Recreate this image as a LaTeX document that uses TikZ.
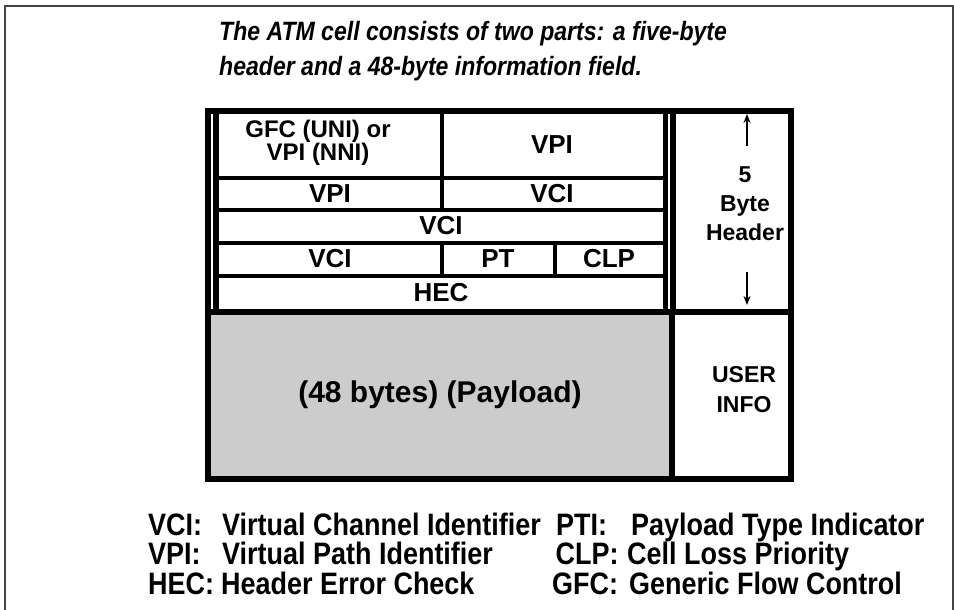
\documentclass[tikz,border=0pt]{standalone}
\usepackage{fontspec}
\setmainfont{Liberation Sans}
\newfontfamily\narrowfont{Liberation Sans}[FakeStretch=0.87]
\usetikzlibrary{arrows.meta}
\definecolor{payloadgray}{HTML}{CCCCCC}
\definecolor{framegray}{HTML}{444444}
\tikzset{
  bar/.style={line width=6pt},
  thinbar/.style={line width=4pt},
  celltext/.style={font=\fontsize{26}{20}\selectfont\bfseries, inner sep=0pt, align=center},
  sidetext/.style={font=\fontsize{23}{20}\selectfont\bfseries, inner sep=0pt, anchor=base},
  titletext/.style={font=\narrowfont\fontsize{26.5}{30}\selectfont\bfseries\itshape, inner sep=0pt, anchor=base west},
  legtext/.style={font=\narrowfont\fontsize{31}{31}\selectfont\bfseries, inner sep=0pt, anchor=base west},
  arr/.style={line width=1.6pt, -{Stealth[length=9pt,width=7pt]}}
}
\begin{document}
\begin{tikzpicture}[x=1pt,y=-1pt]
\useasboundingbox (0,0) rectangle (954,610);
% outer frame
\draw[framegray, line width=2pt] (5,620) -- (5,6) -- (952.5,6) -- (952.5,620);
% title
\node[titletext] (t1) at (219,41) {The ATM cell consists of two parts: a five-byte};
\node[titletext] (t2) at (219,76) {header and a 48-byte information field.};
% payload fill
\fill[payloadgray] (211,315) rectangle (669,476);
% frame of table
\draw[bar] (208,111) rectangle (791,479);
\draw[bar] (205,312) -- (794,312);
\draw[bar] (216,111) -- (216,312);
\draw[line width=5pt] (665.5,111) -- (665.5,312);
\draw[bar] (673,111) -- (673,312);
\draw[bar] (672,312) -- (672,479);
% inner header lines
\draw[thinbar] (219,177.5) -- (663,177.5);
\draw[thinbar] (219,209.5) -- (663,209.5);
\draw[thinbar] (219,242.5) -- (663,242.5);
\draw[thinbar] (219,275.5) -- (663,275.5);
\draw[thinbar] (441.5,114) -- (441.5,209.5);
\draw[thinbar] (442,242.5) -- (442,275.5);
\draw[thinbar] (555,242.5) -- (555,275.5);
% cell texts
\node[celltext, font=\fontsize{24}{20}\selectfont\bfseries] (gfc) at (318,143) {GFC (UNI) or\\VPI (NNI)};
\node[celltext] (vpia) at (552,145) {VPI};
\node[celltext] (vpib) at (330,194) {VPI};
\node[celltext] (vcib) at (552,194) {VCI};
\node[celltext] (vcic) at (441,226) {VCI};
\node[celltext] (vcid) at (330,259) {VCI};
\node[celltext] (pt) at (498,259) {PT};
\node[celltext] (clp) at (609,259) {CLP};
\node[celltext] (hec) at (441,293) {HEC};
\node[celltext, font=\fontsize{30}{30}\selectfont\bfseries] (pay) at (440,395) {(48 bytes) (Payload)};
% right header box
\node[sidetext] (five) at (745,182) {5};
\node[sidetext] (byte) at (745,211) {Byte};
\node[sidetext] (header) at (745,240) {Header};
\coordinate (upS) at (747,146);
\coordinate (upT) at (747,114);
\coordinate (dnS) at (747,272);
\coordinate (dnT) at (747,305);
\draw[arr] (upS) -- (upT);
\draw[arr] (dnS) -- (dnT);
\node[sidetext] (user) at (744,382) {USER};
\node[sidetext] (info) at (744,412) {INFO};
% legend
\node[legtext] (l1a) at (148,535) {VCI:};
\node[legtext] (l1b) at (222,535) {Virtual Channel Identifier};
\node[legtext] (l1c) at (556,535) {PTI:};
\node[legtext] (l1d) at (631,535) {Payload Type Indicator};
\node[legtext] (l2a) at (148,564.5) {VPI:};
\node[legtext] (l2b) at (222,564.5) {Virtual Path Identifier};
\node[legtext] (l2c) at (555.5,564.5) {CLP:};
\node[legtext] (l2d) at (627,564.5) {Cell Loss Priority};
\node[legtext] (l3a) at (148,594) {HEC:};
\node[legtext] (l3b) at (221,594) {Header Error Check};
\node[legtext] (l3c) at (552,594) {GFC:};
\node[legtext] (l3d) at (629,594) {Generic Flow Control};
\end{tikzpicture}
\end{document}
